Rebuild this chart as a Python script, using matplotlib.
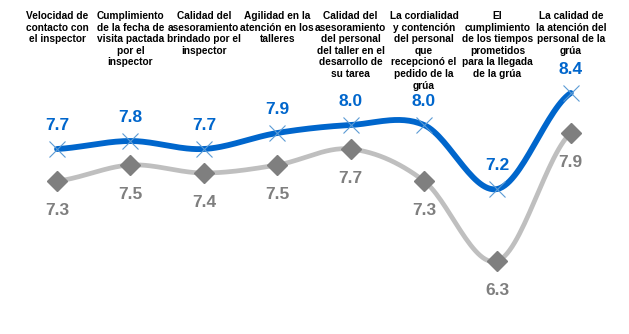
import numpy as np
import matplotlib
matplotlib.use("Agg")
import matplotlib.pyplot as plt

categories = [
    "Velocidad de\ncontacto con\nel inspector",
    "Cumplimiento\nde la fecha de\nvisita pactada\npor el\ninspector",
    "Calidad del\nasesoramiento\nbrindado por el\ninspector",
    "Agilidad en la\natención en los\ntalleres",
    "Calidad del\nasesoramiento\ndel personal\ndel taller en el\ndesarrollo de\nsu tarea",
    "La cordialidad\ny contención\ndel personal\nque\nrecepcionó el\npedido de la\ngrúa",
    "El\ncumplimiento\nde los tiempos\nprometidos\npara la llegada\nde la grúa",
    "La calidad de\nla atención del\npersonal de la\ngrúa",
]
blue_values = [7.7, 7.8, 7.7, 7.9, 8.0, 8.0, 7.2, 8.4]
gray_values = [7.3, 7.5, 7.4, 7.5, 7.7, 7.3, 6.3, 7.9]

plt.rcParams['font.family'] = ['Liberation Sans', 'DejaVu Sans']

def smooth(xs, ys, n=30):
    # Catmull-Rom curve through the points (drawing only)
    xs = np.asarray(xs, float); ys = np.asarray(ys, float)
    px = np.concatenate([[2*xs[0]-xs[1]], xs, [2*xs[-1]-xs[-2]]])
    py = np.concatenate([[ys[0]], ys, [ys[-1]]])
    outx, outy = [], []
    for i in range(1, len(px)-2):
        t = np.linspace(0, 1, n, endpoint=False)
        for arr, out in ((px, outx), (py, outy)):
            p0, p1, p2, p3 = arr[i-1], arr[i], arr[i+1], arr[i+2]
            out.extend(0.5*((2*p1) + (-p0+p2)*t + (2*p0-5*p1+4*p2-p3)*t**2 + (-p0+3*p1-3*p2+p3)*t**3))
    outx.append(xs[-1]); outy.append(ys[-1])
    return np.array(outx), np.array(outy)

fig = plt.figure(figsize=(6.29, 3.34), dpi=100)
ax = fig.add_axes([0, 0, 1, 1])
ax.set_xlim(-0.777, 7.793)
ax.set_ylim(5.3875, 9.5625)
ax.axis('off')

x = np.arange(len(categories))

gx, gy = smooth(x, gray_values)
ax.plot(gx, gy, color='#bfbfbf', lw=3.4, solid_capstyle='round', zorder=2)
ax.plot(x, gray_values, linestyle='none', marker='D', markersize=10, color='#7f7f7f', zorder=3)

bx, by = smooth(x, blue_values)
ax.plot(bx, by, color='#0066cc', lw=4.2, solid_capstyle='round', zorder=4)
ax.plot(x, blue_values, linestyle='none', marker='x', markersize=12, markeredgewidth=0.8,
        color='#5b9bd5', zorder=5)

for xi, v in zip(x, blue_values):
    ax.annotate(f"{v:.1f}", (xi, v), xytext=(0, 17), textcoords='offset points',
                ha='center', va='center', fontsize=12.5, fontweight='bold', color='#0066cc', zorder=6)
for xi, v in zip(x, gray_values):
    ax.annotate(f"{v:.1f}", (xi, v), xytext=(0, -21), textcoords='offset points',
                ha='center', va='center', fontsize=12.5, fontweight='bold', color='#7f7f7f', zorder=6)

for xi, c in zip(x, categories):
    ax.text(xi, 9.42, c, ha='center', va='top', fontsize=7.3, fontweight='bold',
            color='black', linespacing=1.19, zorder=1)

fig.savefig('out.png', dpi=100)
